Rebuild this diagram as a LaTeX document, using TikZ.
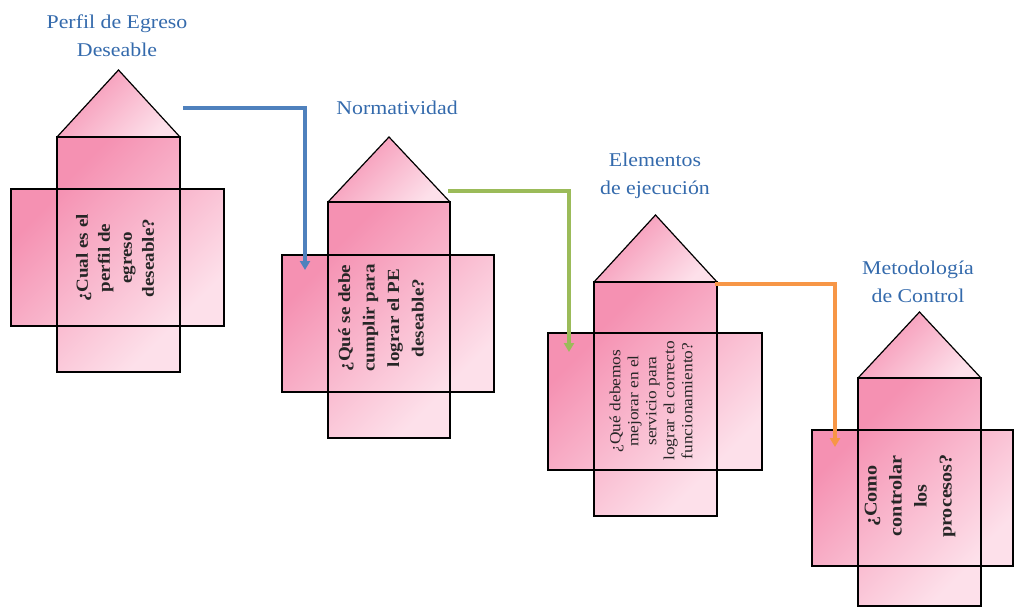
\documentclass[tikz,border=0pt]{standalone}
\usepackage{fontspec}
\setmainfont{Liberation Serif}[FakeStretch=1.12]
\usetikzlibrary{arrows.meta}

\definecolor{pinkD}{RGB}{245,145,178}
\definecolor{pinkL}{RGB}{253,224,234}
\definecolor{titleblue}{RGB}{52,106,172}
\definecolor{flowblue}{RGB}{79,129,189}
\definecolor{flowgreen}{RGB}{155,187,89}
\definecolor{floworange}{RGB}{247,150,70}

\tikzset{
  pinkshade/.style={top color=pinkD, bottom color=pinkL, shading angle=45},
  outline/.style={draw=black, line width=1.2pt, line join=miter},
  title/.style={text=titleblue, align=center, inner sep=0pt,
    font=\fontsize{19.5}{28}\selectfont},
  question/.style={rotate=90, align=center, inner sep=0pt, text=black!85},
  flow/.style={line width=3.5pt, line join=miter,
    -{Triangle[length=9pt,width=10pt]}},
}

% house-shaped net: column with a triangular roof and two side wings
% #1 column left, #2 column right, #3 apex y, #4 roof base y, #5 column bottom,
% #6 wing left, #7 wing right, #8 wing top, #9 wing bottom
\newcommand{\pinkhouse}[9]{%
  \path[pinkshade] (#6,#8) rectangle (#7,#9);
  \path[pinkshade] (#1,#4) rectangle (#2,#5);
  \path[pinkshade] (#1,#4) -- ({(#1+#2)/2},#3) -- (#2,#4) -- cycle;
  \draw[outline] (#6,#8) rectangle (#7,#9);
  \draw[outline] (#1,#4) rectangle (#2,#5);
  \draw[outline] (#1,#4) -- ({(#1+#2)/2},#3) -- (#2,#4);
}

\begin{document}
\begin{tikzpicture}[x=1pt,y=-1pt]
  \useasboundingbox (0,0) rectangle (1015,611);

  % the four houses
  \pinkhouse{57}{180}{70}{137}{372}{11}{224}{189}{326}
  \pinkhouse{328}{450}{137}{202}{438}{282}{494}{255}{392}
  \pinkhouse{594}{717}{215}{282}{516}{548}{762}{333}{470}
  \pinkhouse{858}{981}{312}{378}{606}{812}{1013}{430}{566}

  % headings
  \node[title] (t1) at (117,36) {Perfil de Egreso\\Deseable};
  \node[title] (t2) at (397,108) {Normatividad};
  \node[title] (t3) at (655,176) {Elementos\\de ejecución};
  \node[title] (t4) at (918,282) {Metodología\\de Control};

  % questions written along each column
  \node[question, font=\bfseries\fontsize{17}{22}\selectfont] (q1) at (115,258)
    {¿Cual es el\\perfil de\\egreso\\deseable?};
  \node[question, font=\bfseries\fontsize{17}{24.5}\selectfont] (q2) at (381,318)
    {¿Qué se debe\\cumplir para\\lograr el PE\\deseable?};
  \node[question, font=\fontsize{15.5}{18}\selectfont] (q3) at (651,401)
    {¿Qué debemos\\mejorar en el\\servicio para\\lograr el correcto\\funcionamiento?};
  \node[question, font=\bfseries\fontsize{18}{25}\selectfont] (q4) at (910,496)
    {¿Como\\controlar\\los\\procesos?};

  % connector ends
  \coordinate (out1) at (183,108);
  \coordinate (in2) at (305,270);
  \coordinate (out2) at (448,191);
  \coordinate (in3) at (569,352);
  \coordinate (out3) at (715,284);
  \coordinate (in4) at (835,447);

  % elbow connectors between the houses
  \draw[flow, flowblue] (out1) -| (in2);
  \draw[flow, flowgreen] (out2) -| (in3);
  \draw[flow, floworange] (out3) -| (in4);
\end{tikzpicture}
\end{document}
